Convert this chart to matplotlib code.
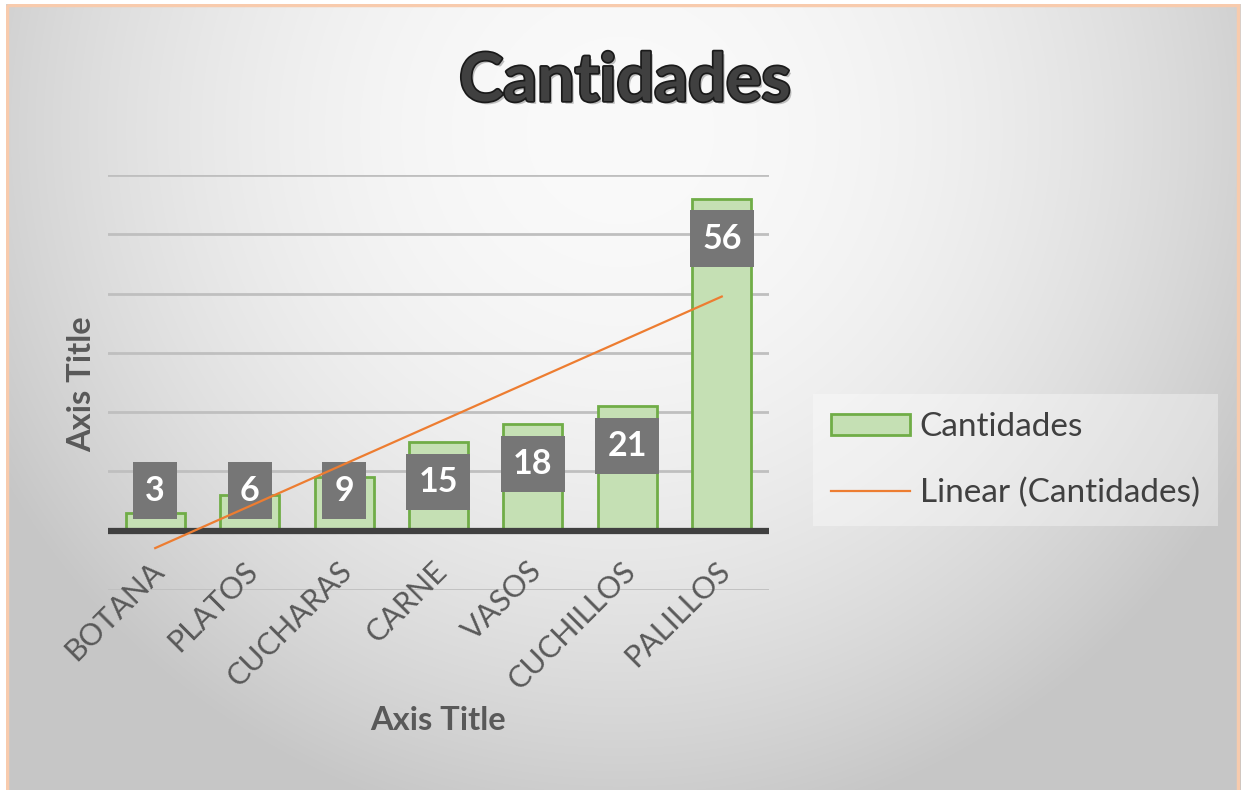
import numpy as np
import matplotlib.pyplot as plt
import matplotlib.patheffects as pe
from matplotlib.patches import Rectangle
from matplotlib.lines import Line2D

categories = ['BOTANA', 'PLATOS', 'CUCHARAS', 'CARNE', 'VASOS', 'CUCHILLOS', 'PALILLOS']
cantidades = [3, 6, 9, 15, 18, 21, 56]

plt.rcParams['font.family'] = ['Lato', 'DejaVu Sans']

W, H = 1241, 790
fig = plt.figure(figsize=(W / 100, H / 100), dpi=100)

# radial grey background
bg = fig.add_axes([0, 0, 1, 1], zorder=-10)
yy, xx = np.mgrid[0:H, 0:W]
d2 = (xx - 620.0) ** 2 + (yy - 130.0) ** 2
shade = np.clip(0.98 - 4e-7 * d2, 0.78, 1.0)
bg.imshow(np.dstack([shade] * 3), extent=(0, W, H, 0), aspect='auto')
bg.add_patch(Rectangle((7, 5), 1231, 800, fill=False, ec='#f8cbad', lw=2.5))
bg.add_patch(Rectangle((0, 0), W, 4, color='white', lw=0))
bg.add_patch(Rectangle((0, 0), 6, H, color='white', lw=0))
bg.set_xlim(0, W)
bg.set_ylim(H, 0)
bg.axis('off')

ax = fig.add_axes([108 / W, 1 - 590 / H, 661 / W, 415 / H])
ax.patch.set_alpha(0)
x = np.arange(len(categories))
ax.bar(x, cantidades, width=0.625, color='#c5e0b4', edgecolor='#70ad47', lw=2, zorder=3)

ax.set_xlim(-0.5, len(categories) - 0.5)
ax.set_ylim(-10, 60)
for g in range(-10, 61, 10):
    if g != 0:
        ax.axhline(g, color='#bfbfbf', lw=2, zorder=1)
ax.axhline(0, color='#404040', lw=4.5, zorder=4)
for s in ax.spines.values():
    s.set_visible(False)
ax.set_xticks([])
ax.set_yticks([])

# data labels (inside end)
off = 6.75
for xi, v in zip(x, cantidades):
    ax.text(xi, max(v - off, off), str(v), ha='center', va='center', fontsize=24.5,
            fontweight='bold', color='white', zorder=5,
            bbox=dict(boxstyle='square,pad=0.36', fc='#767676', ec='none'))

# linear trendline
k, b = np.polyfit(x, cantidades, 1)
ax.plot(x, k * x + b, color='#ed7d31', lw=1.6, zorder=6, clip_on=False)

# category labels
for xi, c in zip(x, categories):
    ax.text(xi + 0.04, -6.0, c, rotation=45, rotation_mode='anchor', ha='right',
            va='center', fontsize=22, color='#595959', clip_on=False)

fig.text(625 / W, 1 - 82 / H, 'Cantidades', ha='center', va='center', fontsize=48,
         fontweight='bold', color='#404040',
         path_effects=[pe.SimplePatchShadow(offset=(2, -2), alpha=0.25),
                       pe.withStroke(linewidth=2.5, foreground='#1a1a1a')])
fig.text(82 / W, 1 - 384 / H, 'Axis Title', rotation=90, ha='center', va='center',
         fontsize=23.5, fontweight='bold', color='#595959')
fig.text(438 / W, 1 - 720 / H, 'Axis Title', ha='center', va='center',
         fontsize=23.5, fontweight='bold', color='#595959')

handles = [Rectangle((0, 0), 1, 1, fc='#c5e0b4', ec='#70ad47', lw=2),
           Line2D([], [], color='#ed7d31', lw=1.6)]
leg = fig.legend(handles, ['Cantidades', 'Linear (Cantidades)'], loc='center left',
                 bbox_to_anchor=(813 / W, 1 - 460 / H), fontsize=24, frameon=True,
                 handlelength=2.35, handleheight=0.6, labelspacing=1.05,
                 handletextpad=0.3, borderpad=0.55, borderaxespad=0, fancybox=False)
leg.get_frame().set_facecolor('white')
leg.get_frame().set_alpha(0.35)
leg.get_frame().set_edgecolor('none')
for t in leg.get_texts():
    t.set_color('#404040')

fig.savefig('out.png', dpi=100)
